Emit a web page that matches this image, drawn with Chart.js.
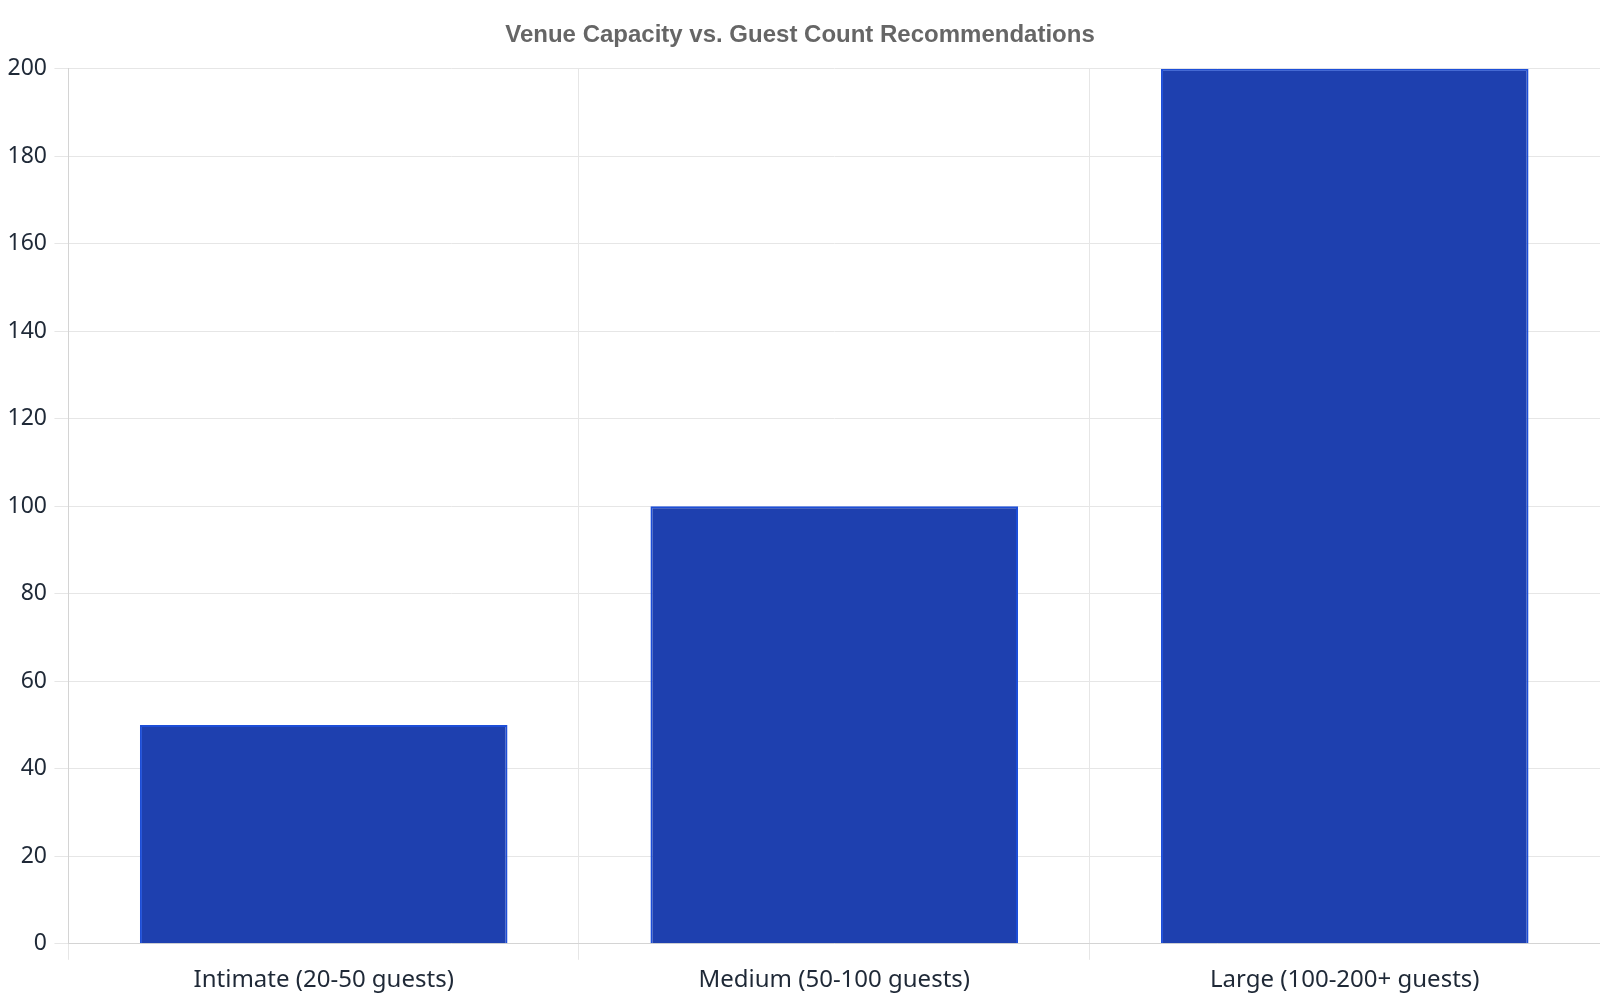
<!DOCTYPE html>
<html>
<head>
<meta charset="utf-8">
<title>Venue Capacity</title>
<script src="https://cdn.jsdelivr.net/npm/chart.js@4"></script>
<style>
  html, body { margin: 0; padding: 0; background: #fff; }
  #wrap { width: 1600px; height: 1000px; position: relative; }
</style>
</head>
<body>
<div id="wrap"><canvas id="venueChart"></canvas></div>
<script>
// DATA
const categories = ['Intimate (20-50 guests)', 'Medium (50-100 guests)', 'Large (100-200+ guests)'];
const capacities = [50, 100, 200];
const yTicks = [0, 20, 40, 60, 80, 100, 120, 140, 160, 180, 200];

// DRAW CHART
window.onload = function () {

    new Chart(document.getElementById('venueChart'), {
        type: 'bar',
        data: {
            labels: categories,
            datasets: [{
                label: 'Capacity',
                data: capacities,
                backgroundColor: '#1e40af',
                borderColor: '#1d4ed8',
                borderWidth: 2
            }]
        },
        options: {
            responsive: true,
            maintainAspectRatio: false,
            animation: false,
            layout: { padding: { left: 0, right: 0, bottom: 0 } },
            plugins: {
                legend: { display: false },
                title: {
                    display: true,
                    text: 'Venue Capacity vs. Guest Count Recommendations',
                    color: '#666666',
                    font: { family: '"Liberation Sans", Arial, sans-serif', size: 24, weight: 'bold' },
                    padding: { top: 21, bottom: 19 }
                }
            },
            scales: {
                x: {
                    grid: { color: '#e6e6e6', tickLength: 16 },
                    border: { color: '#d4d4d4' },
                    ticks: {
                        color: '#1f2937',
                        font: { family: '"Noto Sans", sans-serif', size: 24, lineHeight: 0.675 },
                        padding: 12
                    }
                },
                y: {
                    min: yTicks[0],
                    max: yTicks[yTicks.length - 1],
                    afterBuildTicks: function (axis) {
                        axis.ticks = yTicks.map(v => ({ value: v }));
                    },
                    grid: { color: '#e6e6e6', tickLength: 14 },
                    border: { color: '#d4d4d4' },
                    ticks: {
                        color: '#1f2937',
                        font: { family: '"Noto Sans", sans-serif', size: 23 },
                        padding: 7.5
                    }
                }
            }
        }
    });

};
</script>
</body>
</html>
